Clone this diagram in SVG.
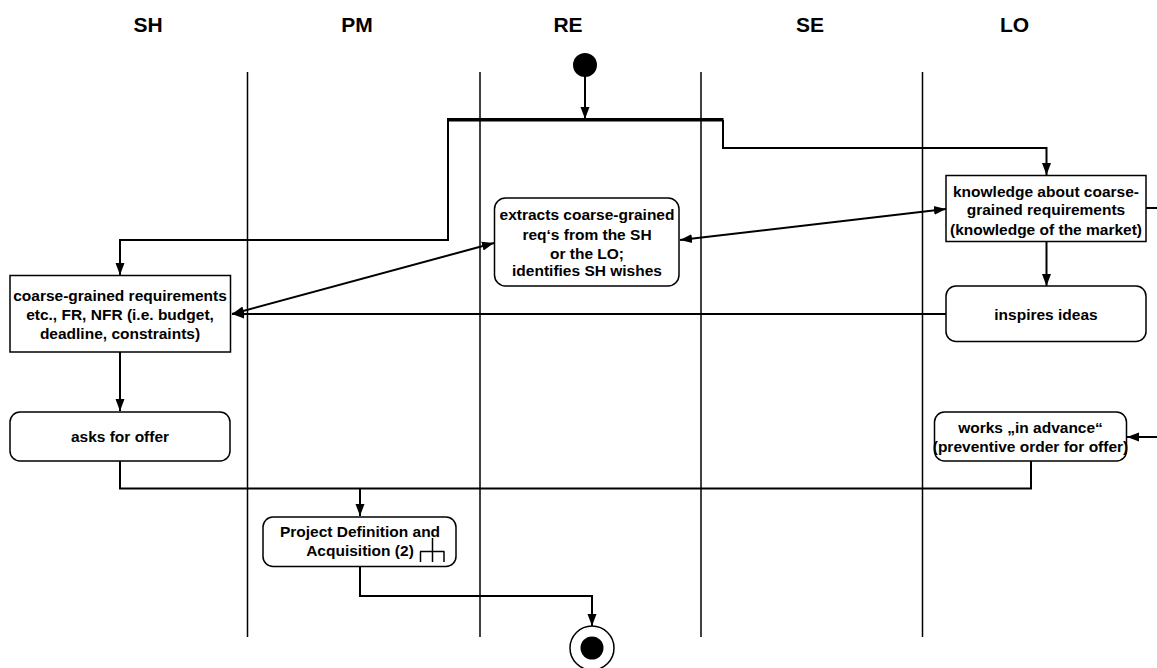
<svg xmlns="http://www.w3.org/2000/svg" width="1157" height="668" viewBox="0 0 1157 668">
<style>
.lane{stroke:#000;stroke-width:1.5;fill:none}
.hdr{font-family:"Liberation Sans",Arial,sans-serif;font-weight:bold;font-size:21px;text-anchor:middle;fill:#000}
.box{fill:#fff;stroke:#000;stroke-width:1.5}
.t{font-family:"Liberation Sans",Arial,sans-serif;font-weight:bold;font-size:15.5px;text-anchor:middle;fill:#000}
.c{stroke:#000;stroke-width:2;fill:none}
.ce{stroke:#000;stroke-width:2;fill:none;marker-end:url(#ah)}
.cb{stroke:#000;stroke-width:2;fill:none;marker-end:url(#ah);marker-start:url(#ahs)}
</style>
<defs>
<marker id="ah" markerUnits="userSpaceOnUse" markerWidth="12" markerHeight="12" viewBox="0 0 12 12" refX="12" refY="6" orient="auto">
<path d="M0,1.5 L12,6 L0,10.5 Z" fill="#000"/>
</marker>
<marker id="ahs" markerUnits="userSpaceOnUse" markerWidth="12" markerHeight="12" viewBox="0 0 12 12" refX="0" refY="6" orient="auto">
<path d="M12,1.5 L0,6 L12,10.5 Z" fill="#000"/>
</marker>
</defs>
<rect width="1157" height="668" fill="#fff"/>
<g id="lanes">
<line class="lane" x1="247.5" y1="72" x2="247.5" y2="637"/>
<line class="lane" x1="480" y1="72" x2="480" y2="637"/>
<line class="lane" x1="701" y1="72" x2="701" y2="637"/>
<line class="lane" x1="922.5" y1="72" x2="922.5" y2="637"/>
<text class="hdr" x="148" y="31.5">SH</text>
<text class="hdr" x="357" y="31.5">PM</text>
<text class="hdr" x="568" y="31.5">RE</text>
<text class="hdr" x="810" y="31.5">SE</text>
<text class="hdr" x="1014.5" y="31.5">LO</text>
</g>
<g id="connectors">
<path class="ce" d="M585,76 V119"/>
<path class="ce" d="M448,120 V240 H120 V275"/>
<path class="ce" d="M723,120 V148 H1046.5 V175"/>
<path class="cb" d="M232,314 L494,243"/>
<path class="cb" d="M680,240 L946,209"/>
<path class="ce" d="M1046.5,242 V286"/>
<path class="ce" d="M946,314 H232"/>
<path class="c" d="M1146,208 H1170"/>
<path class="ce" d="M1170,437 H1127"/>
<path class="ce" d="M120,352 V411"/>
<path class="c" d="M120,461 V488.5 H1031 V461"/>
<path class="ce" d="M360,488.5 V516"/>
<path class="ce" d="M360,567 V596 H592 V626"/>
</g>
<g id="fork">
<rect x="447" y="118" width="276.5" height="3.5" fill="#000"/>
</g>
<g id="start">
<circle cx="585" cy="65" r="12" fill="#000"/>
</g>
<g id="end">
<circle cx="592" cy="648" r="22" fill="#fff" stroke="#000" stroke-width="1.5"/>
<circle cx="592" cy="648" r="11.5" fill="#000"/>
</g>
<g id="sh-req">
<rect class="box" x="10" y="275.5" width="220.5" height="76.5"/>
<text class="t" x="120" y="301">coarse-grained requirements</text>
<text class="t" x="120" y="320">etc., FR, NFR (i.e. budget,</text>
<text class="t" x="120" y="338.5">deadline, constraints)</text>
</g>
<g id="re-extract">
<rect class="box" x="494.5" y="198" width="184.5" height="88" rx="11"/>
<text class="t" x="587" y="220">extracts coarse-grained</text>
<text class="t" x="587" y="239.5">req‘s from the SH</text>
<text class="t" x="587" y="258.5">or the LO;</text>
<text class="t" x="587" y="276">identifies SH wishes</text>
</g>
<g id="lo-knowledge">
<rect class="box" x="946" y="175.5" width="200" height="66"/>
<text class="t" x="1046" y="197">knowledge about coarse-</text>
<text class="t" x="1046" y="215">grained requirements</text>
<text class="t" x="1046" y="234.5">(knowledge of the market)</text>
</g>
<g id="lo-inspires">
<rect class="box" x="946" y="286" width="200" height="55.5" rx="10"/>
<text class="t" x="1046" y="320">inspires ideas</text>
</g>
<g id="sh-asks">
<rect class="box" x="10" y="412" width="220" height="49" rx="10"/>
<text class="t" x="120" y="442">asks for offer</text>
</g>
<g id="lo-works">
<rect class="box" x="934.5" y="412" width="192" height="49" rx="10"/>
<text class="t" x="1030.5" y="433">works „in advance“</text>
<text class="t" x="1030.5" y="452">(preventive order for offer)</text>
</g>
<g id="pm-project">
<rect class="box" x="263" y="517" width="193" height="49.5" rx="10"/>
<text class="t" x="360" y="537">Project Definition and</text>
<text class="t" x="360" y="556">Acquisition (2)</text>
<path d="M432.5,538 V562 M420,551.5 H444.5 M420.5,551.5 V562 M444,551.5 V562" stroke="#000" stroke-width="1.5" fill="none"/>
</g>
</svg>
